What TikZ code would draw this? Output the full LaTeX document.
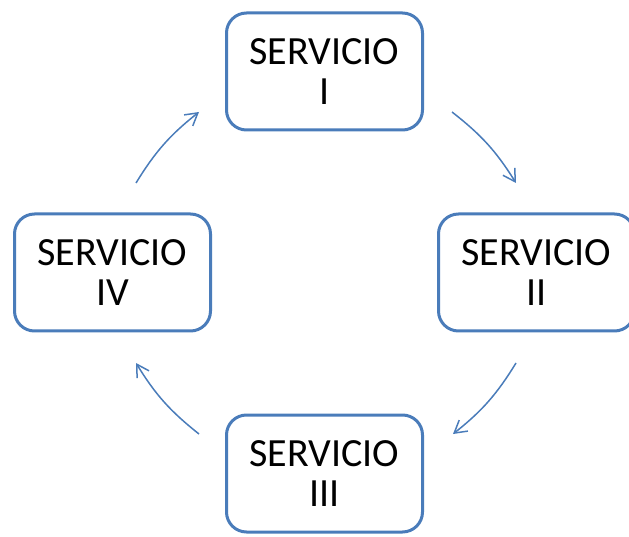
\documentclass[tikz,border=0pt]{standalone}
\usepackage{fontspec}
\setmainfont{Carlito}
\usetikzlibrary{arrows.meta}
\definecolor{svcblue}{RGB}{74,124,186}

\begin{document}
\begin{tikzpicture}[x=1pt, y=1pt,
  servicio/.style={draw=svcblue, line width=3pt, rounded corners=20pt, fill=white,
    minimum width=196pt, minimum height=117pt, inner sep=0pt, align=center,
    font=\fontsize{40}{40}\selectfont},
  ciclo/.style={draw=svcblue, line width=1.5pt, bend left=10,
    -{Straight Barb[length=12pt, width=14pt]}}]

\useasboundingbox (0,0) rectangle (629,536);

% Servicios
\node[servicio] (s1) at (324.5,464.5) {SERVICIO\\I};
\node[servicio] (s2) at (536.5,263.5) {SERVICIO\\II};
\node[servicio] (s3) at (324.5,62.5) {SERVICIO\\III};
\node[servicio] (s4) at (112.5,263.5) {SERVICIO\\IV};

% Flechas del ciclo
\coordinate (a1) at (452,424); \coordinate (b1) at (516,353);
\coordinate (a2) at (516,173); \coordinate (b2) at (453,102);
\coordinate (a3) at (199,102); \coordinate (b3) at (136,173);
\coordinate (a4) at (136,353); \coordinate (b4) at (199,424);

\draw[ciclo] (a1) to (b1);
\draw[ciclo] (a2) to (b2);
\draw[ciclo] (a3) to (b3);
\draw[ciclo] (a4) to (b4);

\end{tikzpicture}
\end{document}
